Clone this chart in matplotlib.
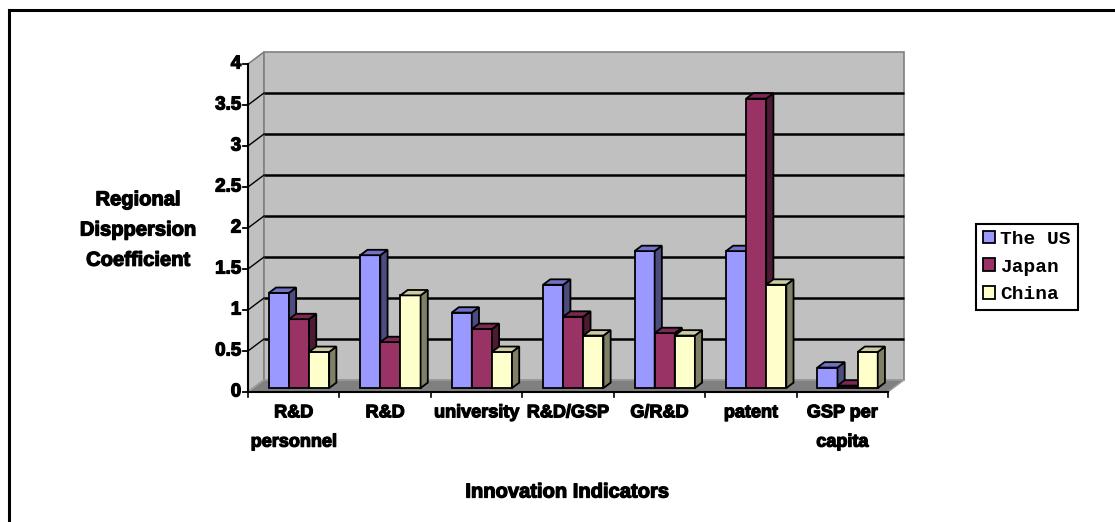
import matplotlib
matplotlib.use("Agg")
import matplotlib.pyplot as plt
import matplotlib.patheffects as pe
from matplotlib.patches import Polygon
from matplotlib.lines import Line2D

# ---- data ----
categories = ["R&D\npersonnel", "R&D", "university", "R&D/GSP", "G/R&D", "patent", "GSP per\ncapita"]
series_names = ["The US", "Japan", "China"]
us_values = [1.16, 1.62, 0.92, 1.26, 1.67, 1.67, 0.25]
japan_values = [0.84, 0.56, 0.72, 0.87, 0.67, 3.53, 0.03]
china_values = [0.44, 1.13, 0.44, 0.64, 0.64, 1.26, 0.44]
y_ticks = [0, 0.5, 1, 1.5, 2, 2.5, 3, 3.5, 4]
y_tick_labels = ["0", "0.5", "1", "1.5", "2", "2.5", "3", "3.5", "4"]

series_values = [us_values, japan_values, china_values]
front_colors = ["#9999FF", "#993366", "#FFFFCC"]
top_colors = ["#7272C4", "#7A2952", "#CCCCA0"]
side_colors = ["#4C4C80", "#4D1A33", "#808066"]

W, H = 1115, 522
fig = plt.figure(figsize=(W / 100, H / 100), dpi=100)
fig.patch.set_facecolor("white")

heavy = [pe.withStroke(linewidth=0.9, foreground="black")]
label_font = dict(fontweight="bold", family="Liberation Sans", path_effects=heavy)

# oblique 3-D frame: front plane spans 7 categories, walls recede by (DX, DY)
PX_X = 640 / 7.0    # pixels per category
PX_Y = 82.0         # pixels per value unit
DX = 16 / PX_X
DY = 12 / PX_Y
n = len(categories)
ymax = 4

left_px, right_px = 248, 248 + 640 + 16
bottom_px, top_px = 392, 392 - (ymax * PX_Y + 12)
ax = fig.add_axes([left_px / W, (H - bottom_px) / H,
                   (right_px - left_px) / W, (bottom_px - top_px) / H])
ax.set_xlim(0, n + DX)
ax.set_ylim(0, ymax + DY)
ax.axis("off")

wall = "#C0C0C0"
edge_gray = "#808080"
# left wall
ax.add_patch(Polygon([(0, 0), (DX, DY), (DX, ymax + DY), (0, ymax)],
                     closed=True, facecolor=wall, edgecolor=edge_gray, lw=1.2,
                     clip_on=False, zorder=1))
# back wall
ax.add_patch(Polygon([(DX, DY), (n + DX, DY), (n + DX, ymax + DY), (DX, ymax + DY)],
                     closed=True, facecolor=wall, edgecolor=edge_gray, lw=1.2,
                     clip_on=False, zorder=1))
# floor
ax.add_patch(Polygon([(0, 0), (n, 0), (n + DX, DY), (DX, DY)],
                     closed=True, facecolor="#808080", edgecolor="#A0A0A0", lw=1.0,
                     clip_on=False, zorder=2))

# gridlines on the walls
for v in y_ticks[1:-1]:
    ax.plot([DX, n + DX], [v + DY, v + DY], color="black", lw=1.8, zorder=3,
            solid_capstyle="butt", clip_on=False)
    ax.plot([0, DX], [v, v + DY], color="black", lw=1.0, zorder=3, clip_on=False)

# value axis line and ticks
ax.plot([0, 0], [0, ymax], color="black", lw=1.5, zorder=6, clip_on=False)
tick_len = 5 / PX_X
for v, lab in zip(y_ticks, y_tick_labels):
    ax.plot([-tick_len, 0], [v, v], color="black", lw=1.3, zorder=6, clip_on=False)
    ax.text(-0.075, v, lab, ha="right", va="center", fontsize=13.5,
            clip_on=False, **label_font)

# category axis line and ticks
ax.plot([0, n], [0, 0], color="black", lw=1.5, zorder=6, clip_on=False)
tick_h = 5 / PX_Y
for i in range(n + 1):
    ax.plot([i, i], [0, -tick_h], color="black", lw=1.2, zorder=6, clip_on=False)
for i, lab in enumerate(categories):
    ax.text(i + 0.5, -0.15, lab, ha="center", va="top", fontsize=13,
            linespacing=1.95, clip_on=False, **label_font)

# 3-D columns
bar_w = 0.22
group_off = 0.17
f0, f1 = 0.33, 0.78
ddx = (f1 - f0) * DX
ddy = (f1 - f0) * DY
base = f0 * DY
handles = []
z = 10
for i in range(n):
    for j, vals in enumerate(series_values):
        v = vals[i]
        x0 = i + group_off + j * bar_w + f0 * DX
        x1 = x0 + bar_w
        b = ax.bar(x0, v, width=bar_w, bottom=base, align="edge",
                   color=front_colors[j], edgecolor="black", lw=1.3,
                   zorder=z, clip_on=False)
        if i == 0:
            handles.append(b)
        ax.add_patch(Polygon([(x1, base), (x1 + ddx, base + ddy),
                              (x1 + ddx, base + v + ddy), (x1, base + v)],
                             closed=True, facecolor=side_colors[j],
                             edgecolor="black", lw=1.3, zorder=z, clip_on=False))
        ax.add_patch(Polygon([(x0, base + v), (x1, base + v),
                              (x1 + ddx, base + v + ddy), (x0 + ddx, base + v + ddy)],
                             closed=True, facecolor=top_colors[j],
                             edgecolor="black", lw=1.3, zorder=z, clip_on=False))
        z += 1

# axis titles
fig.text(138 / W, 1 - 230 / H, "Regional\nDisppersion\nCoefficient",
         ha="center", va="center", multialignment="center", fontsize=14.5,
         linespacing=1.75, **label_font)
fig.text(567 / W, 1 - 492 / H, "Innovation Indicators", ha="center",
         va="center", fontsize=14.5, **label_font)

# legend
leg = fig.legend([h[0] for h in handles], series_names,
                 loc="center", bbox_to_anchor=(1027 / W, 1 - 267 / H),
                 prop={"family": "Liberation Mono", "weight": "bold", "size": 14},
                 handlelength=0.6, handleheight=0.6, handletextpad=0.3,
                 labelspacing=0.55, borderpad=0.35, fancybox=False,
                 framealpha=1, edgecolor="black")
leg.get_frame().set_linewidth(1.5)

# outer frame lines (top and left)
fig.add_artist(Line2D([9 / W, 1], [1 - 10 / H, 1 - 10 / H], color="black", lw=2.2,
                      transform=fig.transFigure))
fig.add_artist(Line2D([9 / W, 9 / W], [0, 1 - 10 / H], color="black", lw=2.2,
                      transform=fig.transFigure))

fig.savefig("out.png", dpi=100)
